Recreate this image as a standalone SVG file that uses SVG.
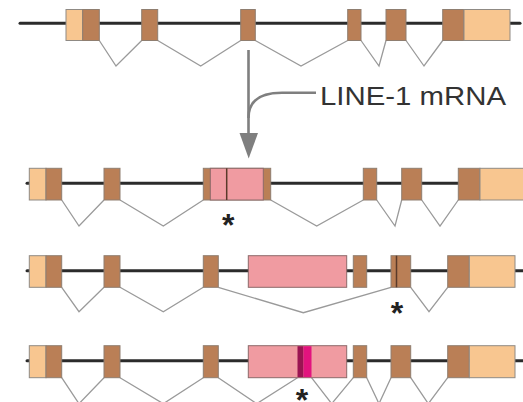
<svg xmlns="http://www.w3.org/2000/svg" width="523" height="402" viewBox="0 0 523 402">
<style>
.bb{stroke:#2b2b2b;stroke-width:3;stroke-linecap:round;fill:none}
.sp{stroke:#9a9a9a;stroke-width:1.3;fill:none;stroke-linejoin:miter}
.lt{fill:#F8C690;stroke:#8f8a84;stroke-width:1}
.dk{fill:#BA7F56;stroke:#8f7e70;stroke-width:1}
.pk{fill:#F09BA1;stroke:#8c6a6a;stroke-width:1}
.mg{fill:#E2137E}
.dm{fill:#9A1452}
.sep{stroke:#5a3a2a;stroke-width:1.5}
.ast{font-family:"Liberation Sans",Arial,sans-serif;font-weight:bold;font-size:32px;fill:#222;text-anchor:middle}
.lbl{font-family:"Liberation Sans",Arial,sans-serif;font-size:26px;fill:#333}
</style>
<rect width="523" height="402" fill="#ffffff"/>
<g id="connectors">
<path class="sp" d="M99.3,40.5 L116,66 L141.7,40.5 M157.7,40.5 L200.7,66 L240.7,40.5 M255.3,40.5 L301,66 L347.7,40.5 M361,40.5 L379,66 L386,40.5 M406,40.5 L424,66 L442.7,40.5"/>
<path class="sp" d="M61.7,200 L79,226 L104,200 M120,200 L163.3,226 L203.3,200 M270.7,200 L316.7,226 L363.3,200 M376.7,200 L395,226 L401.7,200 M421.7,200 L440,226 L458.3,200"/>
<path class="sp" d="M61.7,287.3 L79,311.7 L104,287.3 M120,287.3 L163.3,311.7 L203.3,287.3 M218.3,287.3 L303.3,312.7 L391,287.3 M410.7,287.3 L429,311.7 L447.7,287.3"/>
<path class="sp" d="M61.7,377.7 L79,403.7 L104,377.7 M120,377.7 L163.3,403.7 L203.3,377.7 M218.3,377.7 L256.7,403.7 L297.5,377.7 M311.5,377.7 L331.7,403.7 L353.3,377.7 M366.7,377.7 L379,403.7 L391,377.7 M410.7,377.7 L428.3,403.7 L447.7,377.7"/>
<g id="arrow">
<path d="M248.5,50 V136" stroke="#7f7f7f" stroke-width="2.6" fill="none"/>
<path d="M316,92.7 H282 C262,92.7 248.5,100 248.5,118" stroke="#7f7f7f" stroke-width="2.6" fill="none"/>
<polygon points="239.5,133 258,133 248.7,158.5" fill="#7f7f7f"/>
</g>
</g>
<text class="lbl" x="320" y="105" textLength="186" lengthAdjust="spacingAndGlyphs">LINE-1 mRNA</text>
<g id="gene1">
<line class="bb" x1="20" y1="23.3" x2="520" y2="23.3"/>
<rect class="lt" x="66" y="9.5" width="16.7" height="31"/>
<rect class="dk" x="82.7" y="9.5" width="16.6" height="31"/>
<rect class="dk" x="141.7" y="9.5" width="16" height="31"/>
<rect class="dk" x="240.7" y="9.5" width="14.6" height="31"/>
<rect class="dk" x="347.7" y="9.5" width="13.3" height="31"/>
<rect class="dk" x="386" y="9.5" width="20" height="31"/>
<rect class="dk" x="442.7" y="9.5" width="21.3" height="31"/>
<rect class="lt" x="464" y="9.5" width="46" height="31"/>
</g>
<g id="gene2">
<line class="bb" x1="27" y1="183.3" x2="525" y2="183.3"/>
<rect class="lt" x="29.3" y="168.3" width="16.7" height="31.7"/>
<rect class="dk" x="46" y="168.3" width="15.7" height="31.7"/>
<rect class="dk" x="104" y="168.3" width="16" height="31.7"/>
<rect class="dk" x="203.3" y="168.3" width="67.4" height="31.7"/>
<rect class="pk" x="210.3" y="168.3" width="53" height="31.7"/>
<line class="sep" x1="226.7" y1="168.3" x2="226.7" y2="200"/>
<rect class="dk" x="363.3" y="168.3" width="13.4" height="31.7"/>
<rect class="dk" x="401.7" y="168.3" width="20" height="31.7"/>
<rect class="dk" x="458.3" y="168.3" width="21.7" height="31.7"/>
<rect class="lt" x="480" y="168.3" width="50" height="31.7"/>
<text class="ast" x="228.3" y="236">*</text>
</g>
<g id="gene3">
<line class="bb" x1="27" y1="270.7" x2="525" y2="270.7"/>
<rect class="lt" x="29.3" y="255.7" width="16.7" height="31.6"/>
<rect class="dk" x="46" y="255.7" width="15.7" height="31.6"/>
<rect class="dk" x="104" y="255.7" width="16" height="31.6"/>
<rect class="dk" x="203.3" y="255.7" width="15" height="31.6"/>
<rect class="pk" x="248.3" y="255.7" width="98.4" height="31.6"/>
<rect class="dk" x="353.3" y="255.7" width="13.4" height="31.6"/>
<rect class="dk" x="391" y="255.7" width="19.7" height="31.6"/>
<line class="sep" x1="396.5" y1="255.7" x2="396.5" y2="287.3"/>
<rect class="dk" x="447.7" y="255.7" width="21.6" height="31.6"/>
<rect class="lt" x="469.3" y="255.7" width="45.7" height="31.6"/>
<text class="ast" x="397" y="323.5">*</text>
</g>
<g id="gene4">
<line class="bb" x1="27" y1="360.7" x2="525" y2="360.7"/>
<rect class="lt" x="29.3" y="345.7" width="16.7" height="32"/>
<rect class="dk" x="46" y="345.7" width="15.7" height="32"/>
<rect class="dk" x="104" y="345.7" width="16" height="32"/>
<rect class="dk" x="203.3" y="345.7" width="15" height="32"/>
<rect class="pk" x="248.3" y="345.7" width="98.4" height="32"/>
<rect class="dm" x="297.5" y="346.2" width="6" height="31"/>
<rect class="mg" x="303.5" y="346.2" width="8" height="31"/>
<rect class="dk" x="353.3" y="345.7" width="13.4" height="32"/>
<rect class="dk" x="391" y="345.7" width="19.7" height="32"/>
<rect class="dk" x="447.7" y="345.7" width="21.6" height="32"/>
<rect class="lt" x="469.3" y="345.7" width="45.7" height="32"/>
<text class="ast" x="302" y="410.5">*</text>
</g>
</svg>
